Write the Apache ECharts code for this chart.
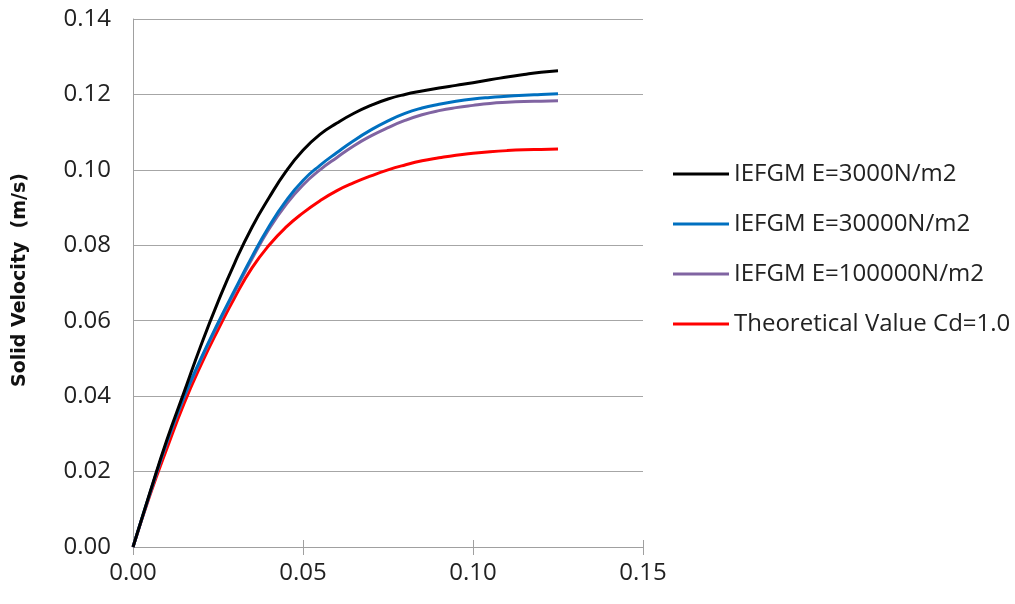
<!DOCTYPE html>
<html>
<head>
<meta charset="utf-8">
<script src="https://cdn.jsdelivr.net/npm/echarts@6/dist/echarts.min.js"></script>
<style>
    html, body { margin: 0; padding: 0; background: #fff; }
    #myEchart { width: 1015px; height: 604px; }
</style>
</head>
<body>
<div id="myEchart"></div>
<script>
// time (s)
var timeList = [0, 0.005, 0.01, 0.015, 0.02, 0.025, 0.03, 0.035, 0.04, 0.045, 0.05, 0.055, 0.06,
    0.065, 0.07, 0.075, 0.08, 0.085, 0.09, 0.095, 0.1, 0.105, 0.11, 0.115, 0.12, 0.125];
var seriesNames = ['IEFGM E=3000N/m2', 'IEFGM E=30000N/m2', 'IEFGM E=100000N/m2', 'Theoretical Value Cd=1.0'];
var e3000 = [0, 0.0145, 0.0285, 0.0410, 0.0535, 0.0650, 0.0755, 0.0848, 0.0926, 0.0996, 0.1052, 0.1094, 0.1124,
    0.1150, 0.1171, 0.1188, 0.1200, 0.1209, 0.1217, 0.1224, 0.1231, 0.1239, 0.1246, 0.1253, 0.1259, 0.1263];
var e30000 = [0, 0.0143, 0.0280, 0.0398, 0.0500, 0.0594, 0.0683, 0.0770, 0.0850, 0.0918, 0.0972, 0.1012, 0.1046,
    0.1078, 0.1106, 0.1130, 0.1150, 0.1164, 0.1174, 0.1182, 0.1188, 0.1192, 0.1195, 0.1198, 0.1200, 0.1202];
var e100000 = [0, 0.0142, 0.0278, 0.0396, 0.0497, 0.0590, 0.0678, 0.0764, 0.0843, 0.0908, 0.0960, 0.1000, 0.1033,
    0.1064, 0.1090, 0.1112, 0.1131, 0.1146, 0.1157, 0.1165, 0.1171, 0.1176, 0.1179, 0.1181, 0.1182, 0.1183];
var theory = [0, 0.0138, 0.0262, 0.0380, 0.0483, 0.0576, 0.0663, 0.0740, 0.0800, 0.0848, 0.0886, 0.0918, 0.0945,
    0.0966, 0.0984, 0.1000, 0.1013, 0.1024, 0.1032, 0.1039, 0.1044, 0.1048, 0.1051, 0.1053, 0.1054, 0.1055];
var colorList = ['#000000', '#0070C0', '#8064A2', '#FF0000'];

var font = 'Open Sans';

function pairs(arr) {
    var out = [];
    for (var i = 0; i < timeList.length; i++) {
        out.push([timeList[i], arr[i]]);
    }
    return out;
}

var chart = echarts.init(document.getElementById('myEchart'));
var allData = [e3000, e30000, e100000, theory];
var series = [];
for (var i = 0; i < allData.length; i++) {
    series.push({
        name: seriesNames[i],
        type: 'line',
        xAxisIndex: 0,
        data: pairs(allData[i]),
        smooth: 0.5,
        showSymbol: false,
        symbol: 'none',
        lineStyle: { color: colorList[i], width: 3 },
        itemStyle: { color: colorList[i] }
    });
}
// draw order: red under the others like the picture
series = [series[3], series[2], series[1], series[0]];

var option = {
    animation: false,
    grid: { left: 133, right: 372, top: 19, bottom: 57 },
    legend: {
        orient: 'vertical',
        left: 668,
        top: 157,
        icon: 'rect',
        itemWidth: 56,
        itemHeight: 3,
        itemGap: 26,
        data: seriesNames,
        textStyle: { fontFamily: font, fontSize: 24, color: '#222' }
    },
    xAxis: [
        {
            type: 'value',
            position: 'bottom',
            min: 0,
            max: 0.15,
            interval: 0.05,
            axisLine: { show: true, onZero: false, lineStyle: { color: '#a0a0a0', width: 1 } },
            axisTick: { show: true, length: 8, lineStyle: { color: '#a0a0a0' } },
            splitLine: { show: false },
            axisLabel: {
                margin: 14,
                fontFamily: font, fontSize: 24, color: '#222',
                formatter: function (v) { return v.toFixed(2); }
            }
        },
        {
            type: 'value',
            position: 'bottom',
            offset: 0,
            min: 0,
            max: 0.15,
            interval: 0.05,
            axisLine: { show: false },
            axisTick: { show: true, inside: true, length: 7, lineStyle: { color: '#a0a0a0' } },
            splitLine: { show: false },
            axisLabel: { show: false }
        }
    ],
    yAxis: {
        type: 'value',
        min: 0,
        max: 0.14,
        interval: 0.02,
        axisLine: { show: true, lineStyle: { color: '#a0a0a0', width: 1 } },
        axisTick: { show: false },
        splitLine: { show: true, lineStyle: { color: '#a6a6a6', width: 1 } },
        axisLabel: {
            margin: 22,
            fontFamily: font, fontSize: 24, color: '#222',
            formatter: function (v) { return v.toFixed(2); }
        }
    },
    graphic: [{
        type: 'text',
        x: 20,
        y: 280,
        rotation: Math.PI / 2,
        style: {
            text: 'Solid Velocity  (m/s)',
            fontFamily: 'DejaVu Sans',
            fontSize: 19,
            fontWeight: 'bold',
            fill: '#111',
            align: 'center',
            verticalAlign: 'middle'
        }
    }],
    series: series
};
chart.setOption(option);
</script>
</body>
</html>
